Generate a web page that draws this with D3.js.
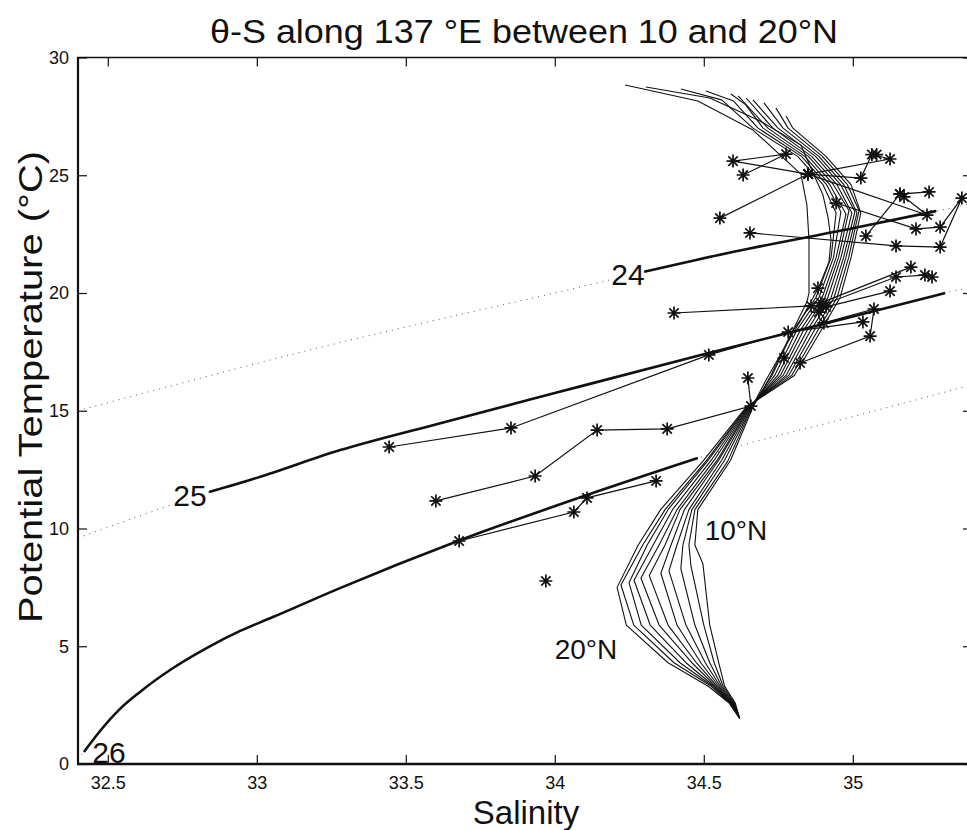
<!DOCTYPE html>
<html>
<head>
<meta charset="utf-8">
<script src="https://cdn.jsdelivr.net/npm/d3@7"></script>
<style>
  body { margin: 0; background: #fff; }
  svg { display: block; font-family: "Liberation Sans", Arial, Helvetica, sans-serif; }
</style>
</head>
<body>
<svg id="chart" width="967" height="830"></svg>
<script>
// axis ticks
const sTicks = [32.5, 33, 33.5, 34, 34.5, 35];
const tTicks = [0, 5, 10, 15, 20, 25, 30];

// isopycnals (salinity, potential temperature)
const sigma24 = [[32.4,15.0],[32.8,16.35],[33.2,17.65],[33.6,18.85],[34.0,20.0],[34.3,20.9],[34.6,21.75],[35.0,22.75],[35.28,23.48],[35.4,23.8]];
const sigma25 = [[32.4,9.6],[32.6,10.5],[32.84,11.55],[33.0,12.15],[33.28,13.33],[33.6,14.42],[34.0,15.75],[34.5,17.4],[35.0,19.0],[35.31,20.0],[35.4,20.25]];
const sigma26 = [[32.40,0.2],[32.42,0.51],[32.474,1.40],[32.541,2.34],[32.608,3.06],[32.709,3.99],[32.833,4.93],[32.944,5.65],[33.054,6.24],[33.279,7.47],[33.675,9.47],[34.108,11.42],[34.48,12.99],[34.59,13.4],[35.0,14.75],[35.4,16.1]];

// climatological theta-S profiles, 10N .. 20N
const lat10 = [[34.236,28.83],[34.48,28.15],[34.665,26.92],[34.826,25.05],[34.846,23.74],[34.853,22.25],[34.853,20.0],[34.846,19.62],[34.79,18.2],[34.725,16.5],[34.665,15.16],[34.59,12.9],[34.48,10.8],[34.47,9.3],[34.497,8.5],[34.52,5.9],[34.55,4.3],[34.57,3.3],[34.605,2.6],[34.62,1.95]];
const lat11 = [[34.306,28.75],[34.52,28.28],[34.682,27.35],[34.826,26.28],[34.87,25.0],[34.90,24.16],[34.917,23.2],[34.927,22.25],[34.92,21.32],[34.886,20.25],[34.826,18.85],[34.766,17.58],[34.709,16.31],[34.662,15.16],[34.58,12.85],[34.47,10.8],[34.45,9.3],[34.457,8.4],[34.50,5.9],[34.535,4.3],[34.565,3.3],[34.603,2.6],[34.62,1.95]];
const lat12 = [[34.423,28.66],[34.56,28.2],[34.665,27.0],[34.815,25.8],[34.900,24.6],[34.944,23.4],[34.927,21.5],[34.876,19.8],[34.799,18.4],[34.729,16.5],[34.66,15.15],[34.57,12.9],[34.46,10.8],[34.43,9.3],[34.423,8.3],[34.47,5.9],[34.52,4.3],[34.56,3.3],[34.60,2.6],[34.62,1.95]];
const lat13 = [[34.507,28.58],[34.60,28.15],[34.682,27.0],[34.828,25.8],[34.912,24.6],[34.960,23.45],[34.935,21.5],[34.886,19.8],[34.811,18.4],[34.738,16.5],[34.657,15.15],[34.56,12.9],[34.45,10.8],[34.41,9.3],[34.383,8.2],[34.44,5.9],[34.505,4.3],[34.555,3.3],[34.598,2.6],[34.62,1.95]];
const lat14 = [[34.591,28.45],[34.64,28.0],[34.699,27.0],[34.839,25.8],[34.923,24.6],[34.977,23.35],[34.944,21.5],[34.897,19.8],[34.823,18.4],[34.748,16.5],[34.655,15.15],[34.55,12.9],[34.435,10.8],[34.39,9.3],[34.356,8.1],[34.41,5.9],[34.49,4.3],[34.55,3.3],[34.596,2.6],[34.62,1.95]];
const lat15 = [[34.615,28.37],[34.715,27.0],[34.851,25.8],[34.935,24.6],[34.987,23.5],[34.952,21.5],[34.906,19.8],[34.834,18.4],[34.757,16.5],[34.652,15.15],[34.545,12.9],[34.42,10.8],[34.37,9.3],[34.317,8.0],[34.38,5.9],[34.475,4.3],[34.545,3.3],[34.594,2.6],[34.62,1.95]];
const lat16 = [[34.642,28.28],[34.732,27.0],[34.862,25.8],[34.947,24.6],[34.997,23.4],[34.960,21.5],[34.916,19.8],[34.846,18.4],[34.766,16.5],[34.65,15.15],[34.535,12.9],[34.41,10.8],[34.35,9.3],[34.289,7.9],[34.35,5.9],[34.46,4.3],[34.54,3.3],[34.592,2.6],[34.62,1.95]];
const lat17 = [[34.665,28.2],[34.749,27.0],[34.875,25.8],[34.959,24.6],[35.007,23.45],[34.969,21.5],[34.927,19.8],[34.858,18.4],[34.776,16.5],[34.648,15.15],[34.525,12.9],[34.395,10.8],[34.33,9.3],[34.266,7.8],[34.32,5.9],[34.44,4.3],[34.535,3.3],[34.59,2.6],[34.62,1.95]];
const lat18 = [[34.702,28.07],[34.766,27.0],[34.886,25.8],[34.970,24.6],[35.014,23.4],[34.977,21.5],[34.937,19.8],[34.870,18.4],[34.785,16.5],[34.646,15.15],[34.515,12.9],[34.38,10.8],[34.31,9.3],[34.249,7.7],[34.29,5.9],[34.42,4.3],[34.53,3.3],[34.588,2.6],[34.62,1.95]];
const lat19 = [[34.742,27.86],[34.783,27.0],[34.898,25.8],[34.982,24.6],[35.021,23.5],[34.986,21.5],[34.947,19.8],[34.882,18.4],[34.795,16.5],[34.644,15.15],[34.51,12.9],[34.37,10.8],[34.295,9.3],[34.222,7.6],[34.265,5.9],[34.40,4.3],[34.525,3.3],[34.586,2.6],[34.62,1.95]];
const lat20 = [[34.776,27.52],[34.799,27.0],[34.910,25.8],[34.994,24.6],[35.027,23.4],[34.994,21.5],[34.957,19.8],[34.893,18.4],[34.804,16.5],[34.642,15.15],[34.50,12.9],[34.355,10.8],[34.28,9.3],[34.209,7.5],[34.24,5.9],[34.38,4.3],[34.515,3.3],[34.584,2.6],[34.62,1.95]];

// station observations (asterisks joined by lines)
const stn1 = [[34.632,25.01],[34.776,25.90],[34.598,25.60],[34.850,25.05]];
const stn2 = [[34.554,23.18],[34.850,25.05],[35.125,25.69],[35.064,25.88],[35.027,24.88],[34.850,25.05]];
const stn3 = [[34.850,25.05],[35.249,23.31],[35.172,24.08],[35.158,24.20],[35.256,24.29]];
const stn4 = [[35.044,22.42],[35.158,24.20]];
const stn5 = [[34.944,23.82],[35.212,22.72],[35.293,22.80],[35.366,24.03],[35.293,21.95],[35.145,22.0],[34.655,22.55]];
const stn6 = [[35.266,20.68],[35.242,20.76],[35.145,20.68],[34.900,19.50]];
const stn7 = [[35.195,21.10],[34.893,19.58]];
const stn8 = [[35.125,20.08],[34.910,19.41]];
const stn9 = [[34.40,19.15],[34.860,19.45]];
const stn10 = [[34.903,18.73],[35.071,19.32],[35.058,18.17],[34.823,17.03]];
const stn11 = [[33.444,13.46],[33.853,14.27],[34.517,17.37],[34.783,18.34],[35.034,18.77]];
const stn12 = [[33.601,11.17],[33.934,12.23],[34.142,14.18],[34.377,14.23],[34.658,15.20],[34.648,16.39]];
const stn13 = [[33.679,9.47],[34.064,10.70],[34.108,11.30],[34.340,12.02]];
const loneStars = [[33.970,7.77],[34.883,20.21],[34.886,19.19],[34.769,17.24],[35.080,25.88]];

const profiles = [lat10, lat11, lat12, lat13, lat14, lat15, lat16, lat17, lat18, lat19, lat20];
const stations = [stn1, stn2, stn3, stn4, stn5, stn6, stn7, stn8, stn9, stn10, stn11, stn12, stn13];

const svg = d3.select('#chart');
const x = d3.scaleLinear().domain([32.4, 35.4]).range([78, 972]);
const y = d3.scaleLinear().domain([0, 30]).range([764, 57.5]);
const line = d3.line().x(d => x(d[0])).y(d => y(d[1]));
const smooth = d3.line().x(d => x(d[0])).y(d => y(d[1])).curve(d3.curveMonotoneX);

svg.append('clipPath').attr('id', 'plot')
    .append('rect').attr('x', 78).attr('y', 57.5).attr('width', 894).attr('height', 706.5);
const plot = svg.append('g').attr('clip-path', 'url(#plot)');

// dotted full isopycnals
[sigma24, sigma25, sigma26].forEach(c => {
    plot.append('path').attr('d', smooth(c))
        .attr('fill', 'none').attr('stroke', '#555').attr('stroke-width', 1)
        .attr('stroke-dasharray', '1,5');
});

// labels hide the dots beneath them
const contourLabels = [['24', 628, 285], ['25', 190, 506], ['26', 109, 763]];
contourLabels.forEach(l => {
    plot.append('text').text(l[0]).attr('x', l[1]).attr('y', l[2])
        .attr('text-anchor', 'middle').attr('font-size', 30)
        .attr('fill', '#111').attr('stroke', '#fff').attr('stroke-width', 5)
        .attr('paint-order', 'stroke');
});

// solid portions
const solid = [[sigma24, 34.3, 35.28], [sigma25, 32.84, 35.31], [sigma26, 32.42, 34.48]];
solid.forEach(s => {
    plot.append('path').attr('d', smooth(s[0].filter(d => d[0] >= s[1] && d[0] <= s[2])))
        .attr('fill', 'none').attr('stroke', '#111').attr('stroke-width', 2.6);
});

// profiles
plot.selectAll('.prof').data(profiles).join('path')
    .attr('class', 'prof')
    .attr('d', line)
    .attr('fill', 'none').attr('stroke', '#111').attr('stroke-width', 1.1)
    .attr('stroke-linejoin', 'round');

// stations
plot.selectAll('.stn').data(stations).join('path')
    .attr('class', 'stn')
    .attr('d', line)
    .attr('fill', 'none').attr('stroke', '#111').attr('stroke-width', 1.2);

function asterisk(cx, cy, r) {
    const p = d3.path(), k = r * 0.72;
    p.moveTo(cx - r, cy); p.lineTo(cx + r, cy);
    p.moveTo(cx, cy - r); p.lineTo(cx, cy + r);
    p.moveTo(cx - k, cy - k); p.lineTo(cx + k, cy + k);
    p.moveTo(cx - k, cy + k); p.lineTo(cx + k, cy - k);
    return p.toString();
}
const allStars = stations.flat().concat(loneStars);
plot.selectAll('.star').data(allStars).join('path')
    .attr('class', 'star')
    .attr('d', d => asterisk(x(d[0]), y(d[1]), 6.5))
    .attr('stroke', '#111').attr('stroke-width', 1.7).attr('fill', 'none');

// latitude labels
svg.append('text').text('10°N').attr('x', 736).attr('y', 540)
    .attr('text-anchor', 'middle').attr('font-size', 28).attr('fill', '#111');
svg.append('text').text('20°N').attr('x', 586).attr('y', 659)
    .attr('text-anchor', 'middle').attr('font-size', 28).attr('fill', '#111');

// axes
const fmt = d => String(d);
const xAxis = svg.append('g').attr('transform', 'translate(0,764)')
    .call(d3.axisBottom(x).tickValues(sTicks).tickFormat(fmt).tickSizeInner(-9).tickSizeOuter(0).tickPadding(12));
const xTop = svg.append('g').attr('transform', 'translate(0,57.5)')
    .call(d3.axisTop(x).tickValues(sTicks).tickSizeInner(-9).tickSizeOuter(0).tickFormat(''));
const yAxis = svg.append('g').attr('transform', 'translate(78,0)')
    .call(d3.axisLeft(y).tickValues(tTicks).tickFormat(fmt).tickSizeInner(-9).tickSizeOuter(0).tickPadding(9));
const yRight = svg.append('g').attr('transform', 'translate(972,0)')
    .call(d3.axisRight(y).tickValues(tTicks).tickSizeInner(-9).tickSizeOuter(0).tickFormat(''));
[xAxis, xTop, yAxis, yRight].forEach(g => {
    g.select('.domain').remove();
    g.selectAll('line').attr('stroke', '#111').attr('stroke-width', 1.2);
    g.selectAll('text').attr('font-size', 18).attr('fill', '#111')
        .attr('font-family', '"Liberation Sans", Arial, sans-serif');
});

// box
svg.append('line').attr('x1', 78).attr('x2', 78).attr('y1', 57).attr('y2', 765)
    .attr('stroke', '#111').attr('stroke-width', 2.2);
svg.append('line').attr('x1', 77).attr('x2', 972).attr('y1', 764).attr('y2', 764)
    .attr('stroke', '#111').attr('stroke-width', 2.6);
svg.append('line').attr('x1', 77).attr('x2', 972).attr('y1', 57.5).attr('y2', 57.5)
    .attr('stroke', '#111').attr('stroke-width', 1.6);

// titles
svg.append('text').text('θ-S along 137 °E between 10 and 20°N')
    .attr('x', 524).attr('y', 43).attr('text-anchor', 'middle')
    .attr('font-size', 34).attr('fill', '#111')
    .attr('textLength', 628).attr('lengthAdjust', 'spacingAndGlyphs');
svg.append('text').text('Salinity')
    .attr('x', 526).attr('y', 824).attr('text-anchor', 'middle')
    .attr('font-size', 33).attr('fill', '#111');
svg.append('text').text('Potential Temperature (°C)')
    .attr('transform', 'translate(42,387) rotate(-90)').attr('text-anchor', 'middle')
    .attr('font-size', 34).attr('fill', '#111')
    .attr('textLength', 472).attr('lengthAdjust', 'spacingAndGlyphs');
</script>
</body>
</html>
